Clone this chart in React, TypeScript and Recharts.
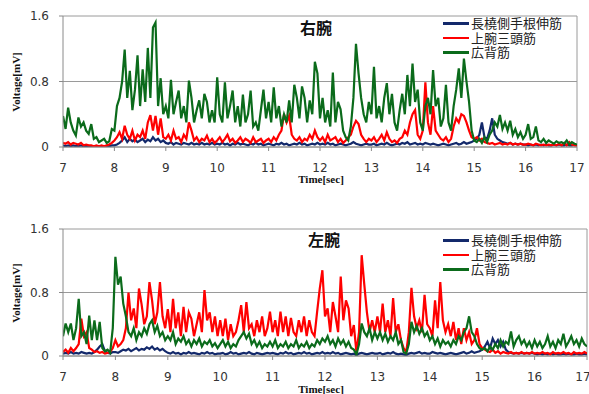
import React from 'react';
import { LineChart, Line, XAxis, YAxis, CartesianGrid, ReferenceLine } from 'recharts';

const START_SEC = 7;
const STEP_SEC = 0.05;
const X_TICKS = [7, 8, 9, 10, 11, 12, 13, 14, 15, 16, 17];
const Y_TICKS = [0, 0.8, 1.6];
const SERIES_NAMES = ['長橈側手根伸筋', '上腕三頭筋', '広背筋'];
const SERIES_KEYS = ['navy', 'red', 'green'];
const SERIES_COLORS = ['#13296b', '#ff0000', '#0b6b1b'];
const PANEL_TITLES = ['右腕', '左腕'];
const X_LABEL = 'Time[sec]';
const Y_LABEL = 'Voltage[mV]';

// Right arm (右腕), samples every 0.05 s from 7.00 to 17.00
const R_NAVY = [
  0.02,0.01,0.02,0.01,0.02,0.01,0.01,0.02,0.01,0.01,0.01,0.01,0.01,0.01,0.01,0.01,0.01,0.01,0.01,0.02,
  0.02,0.03,0.05,0.08,0.12,0.06,0.10,0.07,0.09,0.06,0.08,0.10,0.06,0.09,0.07,0.12,0.08,0.10,0.06,0.08,
  0.05,0.04,0.06,0.03,0.05,0.04,0.03,0.05,0.04,0.03,0.05,0.03,0.04,0.03,0.05,0.03,0.04,0.03,0.05,0.03,
  0.04,0.03,0.05,0.03,0.04,0.02,0.04,0.03,0.05,0.03,0.04,0.03,0.02,0.04,0.03,0.05,0.03,0.04,0.02,0.03,
  0.04,0.03,0.02,0.04,0.03,0.05,0.03,0.04,0.02,0.03,0.04,0.03,0.05,0.03,0.04,0.02,0.03,0.04,0.03,0.05,
  0.03,0.04,0.03,0.05,0.03,0.04,0.02,0.03,0.04,0.03,0.02,0.03,0.04,0.06,0.04,0.03,0.02,0.03,0.04,0.03,
  0.03,0.04,0.02,0.03,0.04,0.03,0.05,0.03,0.02,0.03,0.04,0.03,0.05,0.04,0.06,0.03,0.04,0.05,0.03,0.04,
  0.03,0.05,0.04,0.03,0.04,0.03,0.02,0.03,0.04,0.03,0.02,0.03,0.04,0.05,0.03,0.04,0.06,0.04,0.05,0.06,
  0.08,0.10,0.15,0.30,0.12,0.10,0.20,0.35,0.15,0.10,0.08,0.06,0.05,0.04,0.05,0.03,0.04,0.03,0.04,0.03,
  0.03,0.02,0.03,0.02,0.03,0.02,0.03,0.02,0.03,0.02,0.02,0.03,0.02,0.03,0.02,0.02,0.03,0.02,0.02,0.03,
  0.02,
];
const R_RED = [
  0.05,0.04,0.06,0.03,0.05,0.04,0.03,0.05,0.02,0.03,0.02,0.02,0.01,0.02,0.01,0.02,0.01,0.02,0.03,0.05,
  0.08,0.12,0.18,0.10,0.26,0.15,0.10,0.20,0.08,0.15,0.12,0.20,0.10,0.30,0.39,0.20,0.38,0.15,0.35,0.12,
  0.10,0.15,0.08,0.20,0.10,0.12,0.06,0.15,0.10,0.30,0.20,0.08,0.12,0.06,0.10,0.08,0.14,0.06,0.10,0.05,
  0.08,0.12,0.06,0.10,0.15,0.07,0.10,0.05,0.08,0.12,0.06,0.10,0.08,0.05,0.12,0.06,0.08,0.10,0.05,0.08,
  0.10,0.06,0.12,0.08,0.15,0.20,0.40,0.30,0.38,0.15,0.10,0.08,0.12,0.06,0.10,0.08,0.15,0.10,0.20,0.12,
  0.08,0.12,0.06,0.15,0.08,0.10,0.12,0.06,0.10,0.05,0.08,0.12,0.15,0.25,0.32,0.28,0.15,0.10,0.06,0.10,
  0.08,0.12,0.06,0.10,0.15,0.08,0.18,0.10,0.06,0.08,0.05,0.10,0.12,0.20,0.15,0.30,0.40,0.45,0.15,0.10,
  0.20,0.79,0.30,0.15,0.50,0.20,0.15,0.10,0.08,0.12,0.06,0.10,0.25,0.35,0.30,0.40,0.38,0.30,0.20,0.12,
  0.10,0.12,0.08,0.10,0.06,0.05,0.04,0.05,0.03,0.04,0.05,0.03,0.04,0.03,0.05,0.03,0.04,0.03,0.04,0.03,
  0.03,0.04,0.03,0.02,0.04,0.03,0.02,0.03,0.02,0.03,0.02,0.03,0.02,0.04,0.02,0.05,0.02,0.06,0.03,0.02,
  0.02,
];
const R_GREEN = [
  0.38,0.22,0.48,0.30,0.20,0.14,0.36,0.25,0.30,0.20,0.16,0.28,0.10,0.12,0.06,0.08,0.10,0.05,0.07,0.22,
  0.20,0.50,0.60,0.80,1.19,0.60,0.93,0.45,0.70,1.12,0.50,0.95,0.55,1.21,0.60,1.46,1.52,0.50,0.84,0.40,
  0.50,0.35,0.82,0.40,0.55,0.69,0.35,0.50,0.30,0.81,0.60,0.30,0.45,0.57,0.35,0.65,0.55,0.30,0.45,0.30,
  0.85,0.40,0.30,0.79,0.35,0.50,0.69,0.30,0.50,0.25,0.64,0.30,0.40,0.69,0.25,0.30,0.20,0.45,0.70,0.35,
  0.55,0.30,0.73,0.35,0.50,0.25,0.40,0.30,0.57,0.30,0.76,0.60,0.35,0.74,0.60,0.30,0.57,0.40,1.04,0.90,
  0.35,0.60,0.30,0.45,0.25,0.91,0.30,0.55,0.46,0.20,0.12,0.08,0.25,0.60,1.26,0.90,0.60,0.40,0.30,0.55,
  0.40,0.98,0.35,0.50,0.30,0.60,0.78,0.40,0.65,0.30,0.20,0.45,0.65,0.40,0.88,0.50,1.02,0.55,0.70,0.30,
  0.20,0.50,0.60,0.40,0.94,0.50,0.60,0.25,0.35,0.76,0.30,0.20,0.50,0.70,0.96,0.60,1.08,0.80,0.55,0.20,
  0.08,0.06,0.10,0.05,0.12,0.06,0.15,0.20,0.30,0.25,0.39,0.22,0.30,0.20,0.32,0.15,0.22,0.12,0.18,0.10,
  0.15,0.28,0.10,0.12,0.25,0.08,0.06,0.10,0.05,0.08,0.06,0.04,0.07,0.05,0.06,0.04,0.08,0.03,0.06,0.04,
  0.03,
];

// Left arm (左腕)
const L_NAVY = [
  0.03,0.04,0.03,0.05,0.03,0.04,0.03,0.05,0.04,0.03,0.04,0.03,0.05,0.08,0.12,0.15,0.06,0.04,0.03,0.05,
  0.05,0.04,0.06,0.08,0.07,0.09,0.06,0.08,0.10,0.07,0.09,0.08,0.11,0.09,0.12,0.08,0.10,0.07,0.09,0.06,
  0.04,0.03,0.05,0.03,0.04,0.02,0.04,0.03,0.05,0.03,0.04,0.03,0.02,0.04,0.03,0.05,0.03,0.04,0.02,0.03,
  0.03,0.04,0.02,0.03,0.05,0.03,0.04,0.02,0.03,0.04,0.03,0.05,0.03,0.02,0.04,0.03,0.02,0.03,0.04,0.03,
  0.04,0.03,0.02,0.04,0.03,0.05,0.03,0.04,0.02,0.03,0.04,0.03,0.05,0.03,0.04,0.02,0.03,0.04,0.03,0.05,
  0.03,0.04,0.03,0.05,0.03,0.04,0.02,0.03,0.04,0.03,0.02,0.03,0.01,0.03,0.04,0.03,0.02,0.03,0.04,0.03,
  0.03,0.04,0.02,0.03,0.04,0.03,0.05,0.03,0.02,0.03,0.02,0.01,0.03,0.04,0.03,0.04,0.05,0.03,0.04,0.03,
  0.03,0.05,0.04,0.03,0.04,0.03,0.02,0.03,0.04,0.03,0.02,0.03,0.04,0.05,0.03,0.04,0.06,0.04,0.05,0.06,
  0.08,0.12,0.18,0.10,0.22,0.15,0.20,0.12,0.18,0.08,0.05,0.04,0.03,0.04,0.03,0.04,0.03,0.04,0.03,0.04,
  0.03,0.02,0.03,0.02,0.03,0.02,0.03,0.02,0.03,0.02,0.02,0.03,0.02,0.03,0.02,0.02,0.03,0.02,0.02,0.03,
  0.02,
];
const L_RED = [
  0.05,0.08,0.04,0.10,0.06,0.10,0.15,0.47,0.25,0.30,0.10,0.08,0.05,0.06,0.04,0.05,0.03,0.04,0.05,0.10,
  0.20,0.12,0.15,0.20,0.35,0.80,0.45,0.60,0.35,0.85,0.65,0.40,0.50,0.93,0.70,0.40,0.55,0.93,0.50,0.35,
  0.59,0.30,0.72,0.35,0.55,0.25,0.62,0.30,0.55,0.47,0.25,0.40,0.55,0.30,0.83,0.45,0.55,0.30,0.50,0.25,
  0.45,0.25,0.47,0.20,0.40,0.25,0.30,0.45,0.64,0.30,0.68,0.35,0.40,0.25,0.45,0.30,0.50,0.25,0.35,0.56,
  0.30,0.45,0.25,0.56,0.30,0.50,0.25,0.48,0.30,0.25,0.45,0.30,0.50,0.25,0.45,0.30,0.25,0.56,0.85,1.08,
  0.50,0.60,0.30,0.68,0.50,0.30,1.00,0.45,0.70,0.60,0.25,0.39,0.05,0.30,1.27,0.90,0.55,0.30,0.45,0.30,
  0.50,0.30,0.66,0.30,0.45,0.25,0.73,0.30,0.40,0.20,0.10,0.05,0.30,0.86,0.50,0.35,0.45,0.30,0.77,0.40,
  0.35,0.25,0.70,0.35,0.93,0.45,0.30,0.40,0.25,0.43,0.20,0.35,0.15,0.35,0.20,0.30,0.15,0.20,0.35,0.15,
  0.10,0.08,0.06,0.05,0.08,0.04,0.06,0.03,0.05,0.04,0.03,0.05,0.03,0.04,0.03,0.05,0.03,0.04,0.03,0.05,
  0.03,0.04,0.03,0.05,0.03,0.04,0.02,0.05,0.03,0.04,0.03,0.05,0.03,0.04,0.02,0.05,0.03,0.04,0.03,0.05,
  0.03,
];
const L_GREEN = [
  0.25,0.41,0.30,0.41,0.20,0.35,0.72,0.25,0.30,0.15,0.51,0.20,0.45,0.20,0.43,0.10,0.06,0.08,0.04,0.35,
  1.25,0.90,1.00,0.66,0.50,0.30,0.25,0.35,0.20,0.30,0.25,0.35,0.28,0.40,0.45,0.30,0.38,0.25,0.30,0.20,
  0.25,0.20,0.30,0.15,0.22,0.18,0.25,0.15,0.20,0.12,0.20,0.15,0.22,0.12,0.18,0.15,0.20,0.12,0.16,0.10,
  0.15,0.20,0.12,0.18,0.10,0.15,0.12,0.20,0.25,0.30,0.22,0.28,0.15,0.20,0.12,0.18,0.10,0.15,0.12,0.18,
  0.12,0.20,0.10,0.15,0.12,0.18,0.10,0.15,0.12,0.20,0.10,0.15,0.12,0.18,0.10,0.15,0.12,0.20,0.15,0.22,
  0.18,0.25,0.15,0.20,0.12,0.22,0.15,0.20,0.12,0.18,0.10,0.08,0.02,0.15,0.41,0.30,0.25,0.35,0.20,0.30,
  0.22,0.30,0.20,0.28,0.18,0.25,0.20,0.30,0.15,0.20,0.05,0.03,0.15,0.43,0.30,0.38,0.28,0.35,0.25,0.30,
  0.20,0.25,0.15,0.22,0.12,0.20,0.15,0.18,0.12,0.20,0.15,0.25,0.20,0.30,0.35,0.50,0.30,0.25,0.15,0.10,
  0.08,0.10,0.06,0.12,0.08,0.15,0.10,0.20,0.12,0.18,0.15,0.31,0.12,0.20,0.25,0.15,0.20,0.12,0.18,0.10,
  0.20,0.12,0.18,0.10,0.15,0.25,0.12,0.18,0.10,0.20,0.15,0.28,0.12,0.18,0.25,0.15,0.20,0.12,0.22,0.15,
  0.12,
];

function buildRows(navy: number[], red: number[], green: number[]) {
  return navy.map((v, i) => ({
    t: Math.round((START_SEC + i * STEP_SEC) * 100) / 100,
    navy: v,
    red: red[i],
    green: green[i],
  }));
}

const RIGHT_ROWS = buildRows(R_NAVY, R_RED, R_GREEN);
const LEFT_ROWS = buildRows(L_NAVY, L_RED, L_GREEN);

type PanelProps = {
  top: number;
  rows: any[];
  marginTop: number;
  marginRight: number;
  plotHeight: number;
  title: string;
  titleX: number;
  titleY: number;
  legendY: number;
  yLabelY: number;
  xLabelY: number;
};

const tickStyle = { fontSize: 12, fill: '#333', fontFamily: 'DejaVu Sans' };
const axisTitleStyle: React.CSSProperties = {
  position: 'absolute',
  fontFamily: '"Liberation Serif", serif',
  fontWeight: 'bold',
  fontSize: 11,
  color: '#111',
  whiteSpace: 'nowrap',
  lineHeight: '12px',
};

function Panel(p: PanelProps) {
  const xAxisHeight = 33;
  const height = p.marginTop + p.plotHeight + xAxisHeight;
  return (
    <div style={{ position: 'absolute', left: 0, top: p.top, width: 589, height }}>
      <LineChart
        width={589}
        height={height}
        data={p.rows}
        margin={{ top: p.marginTop, right: p.marginRight, bottom: 0, left: 0 }}
      >
        <CartesianGrid horizontal vertical={false} stroke="#9a9a9a" strokeWidth={1} />
        <XAxis
          dataKey="t"
          type="number"
          domain={[7, 17]}
          ticks={X_TICKS}
          height={xAxisHeight}
          tickSize={4}
          tickMargin={12}
          tick={tickStyle}
          stroke="#8a8a8a"
          allowDataOverflow
        />
        <YAxis
          type="number"
          domain={[0, 1.6]}
          ticks={Y_TICKS}
          width={63}
          tickSize={4}
          tickMargin={10}
          tick={tickStyle}
          stroke="#8a8a8a"
          allowDataOverflow
        />
        <ReferenceLine x={17} stroke="#9a9a9a" strokeWidth={1} />
        {[0, 1, 2].map((i) => (
          <Line
            key={SERIES_KEYS[i]}
            dataKey={SERIES_KEYS[i]}
            name={SERIES_NAMES[i]}
            stroke={SERIES_COLORS[i]}
            strokeWidth={2.2}
            strokeLinejoin="miter"
            dot={false}
            type="linear"
            isAnimationActive={false}
          />
        ))}
      </LineChart>
      <div
        style={{
          position: 'absolute',
          left: p.titleX,
          top: p.titleY - 10,
          fontFamily: '"Noto Sans CJK JP", sans-serif',
          fontWeight: 'bold',
          fontSize: 16,
          lineHeight: '20px',
          color: '#111',
        }}
      >
        {p.title}
      </div>
      <div style={{ position: 'absolute', left: 443, top: p.legendY - 7 }}>
        {SERIES_NAMES.map((name, i) => (
          <div key={name} style={{ display: 'flex', alignItems: 'center', height: 14.5, overflow: 'visible' }}>
            <div style={{ width: 26, height: 2.5, background: SERIES_COLORS[i], marginRight: 2 }} />
            <div
              style={{
                fontFamily: '"Noto Sans CJK JP", sans-serif',
                fontSize: 13,
                lineHeight: '14px',
                height: 14,
                whiteSpace: 'nowrap',
                color: '#222',
              }}
            >
              {name}
            </div>
          </div>
        ))}
      </div>
      <div
        style={{
          ...axisTitleStyle,
          left: 16 - 40,
          top: p.yLabelY - 6,
          width: 80,
          textAlign: 'center',
          transform: 'rotate(-90deg)',
        }}
      >
        {Y_LABEL}
      </div>
      <div style={{ ...axisTitleStyle, left: 321 - 40, width: 80, textAlign: 'center', top: p.xLabelY - 6 }}>
        {X_LABEL}
      </div>
    </div>
  );
}

export default function App() {
  return (
    <div style={{ position: 'absolute', left: 0, top: 0, width: 589, height: 394, background: '#fff', overflow: 'hidden' }}>
      <Panel
        top={0}
        rows={RIGHT_ROWS}
        marginTop={16}
        marginRight={12}
        plotHeight={131}
        title={PANEL_TITLES[0]}
        titleX={300}
        titleY={27}
        legendY={23}
        yLabelY={82}
        xLabelY={179}
      />
      <Panel
        top={212}
        rows={LEFT_ROWS}
        marginTop={17}
        marginRight={2}
        plotHeight={127}
        title={PANEL_TITLES[1]}
        titleX={308}
        titleY={27}
        legendY={28}
        yLabelY={81}
        xLabelY={177}
      />
    </div>
  );
}
